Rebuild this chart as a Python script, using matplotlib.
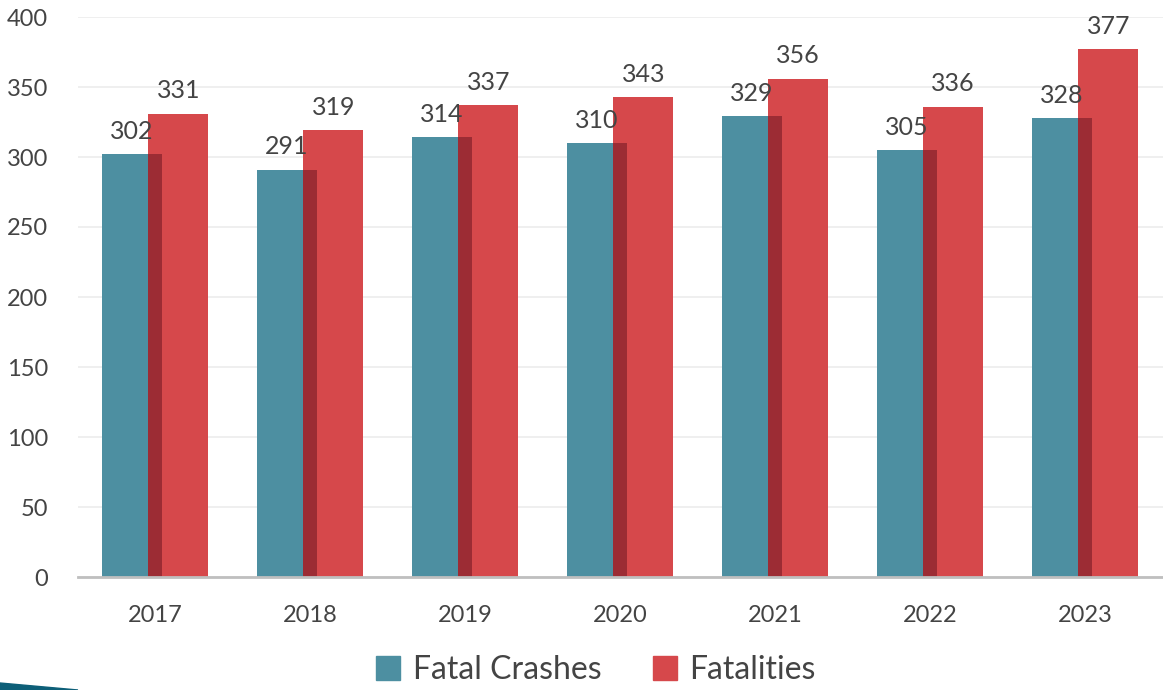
import numpy as np
import matplotlib.pyplot as plt
from matplotlib.patches import Polygon

years = ['2017', '2018', '2019', '2020', '2021', '2022', '2023']
fatal_crashes = [302, 291, 314, 310, 329, 305, 328]
fatalities = [331, 319, 337, 343, 356, 336, 377]

teal = '#4d8fa1'
red = '#d6484b'
dark = '#9c2c34'
txt = '#444444'

plt.rcParams['font.family'] = ['Lato', 'DejaVu Sans']

fig = plt.figure(figsize=(11.63, 6.9), dpi=100)
ax = fig.add_axes([77.5 / 1163, 113 / 690, 1085 / 1163, 560 / 690])

x = np.arange(len(years))
w = 0.39
off = 0.15
ax.bar(x - off, fatal_crashes, w, color=teal, zorder=2, label='Fatal Crashes')
ax.bar(x + off, fatalities, w, color=red, zorder=3, label='Fatalities')
# overlap strip looks darker, like a multiply blend
ov_left = (x + off) - w / 2
ov_right = (x - off) + w / 2
overlap = np.minimum(fatal_crashes, fatalities)
ax.bar((ov_left + ov_right) / 2, overlap, ov_right - ov_left, color=dark, zorder=4)

for xi, v in zip(x - off, fatal_crashes):
  ax.text(xi, v + 8, str(v), ha='center', va='bottom', fontsize=18, color=txt, zorder=5)
for xi, v in zip(x + off, fatalities):
  ax.text(xi, v + 8, str(v), ha='center', va='bottom', fontsize=18, color=txt, zorder=5)

ax.set_xlim(-0.5, len(years) - 0.5)
ax.set_ylim(0, 400)
ax.set_yticks(range(0, 401, 50))
ax.set_xticks(x)
ax.set_xticklabels(years)
ax.tick_params(axis='both', length=0, labelsize=17, labelcolor=txt)
ax.tick_params(axis='x', pad=20)
ax.tick_params(axis='y', pad=21)
ax.grid(axis='y', color='#ececec', linewidth=1.2, zorder=0)
ax.set_axisbelow(True)
for s in ['top', 'right', 'left']:
  ax.spines[s].set_visible(False)
ax.spines['bottom'].set_color('#bfbfbf')
ax.spines['bottom'].set_linewidth(2)
ax.spines['bottom'].set_zorder(6)

handles = [plt.Rectangle((0, 0), 1, 1, color=teal), plt.Rectangle((0, 0), 1, 1, color=red)]
fig.legend(handles, ['Fatal Crashes', 'Fatalities'], loc='center', bbox_to_anchor=(596 / 1163, 1 - 670 / 690),
           ncol=2, frameon=False, fontsize=23, labelcolor=txt, handlelength=0.75, handleheight=0.75,
           handletextpad=0.4, columnspacing=1.6)

# little swoosh in the bottom-left corner
fig.patches.append(Polygon([[0, 0], [0, 7 / 690], [78 / 1163, 0]], closed=True,
                           transform=fig.transFigure, color='#0d5f78'))

fig.savefig('out.png', dpi=100)
